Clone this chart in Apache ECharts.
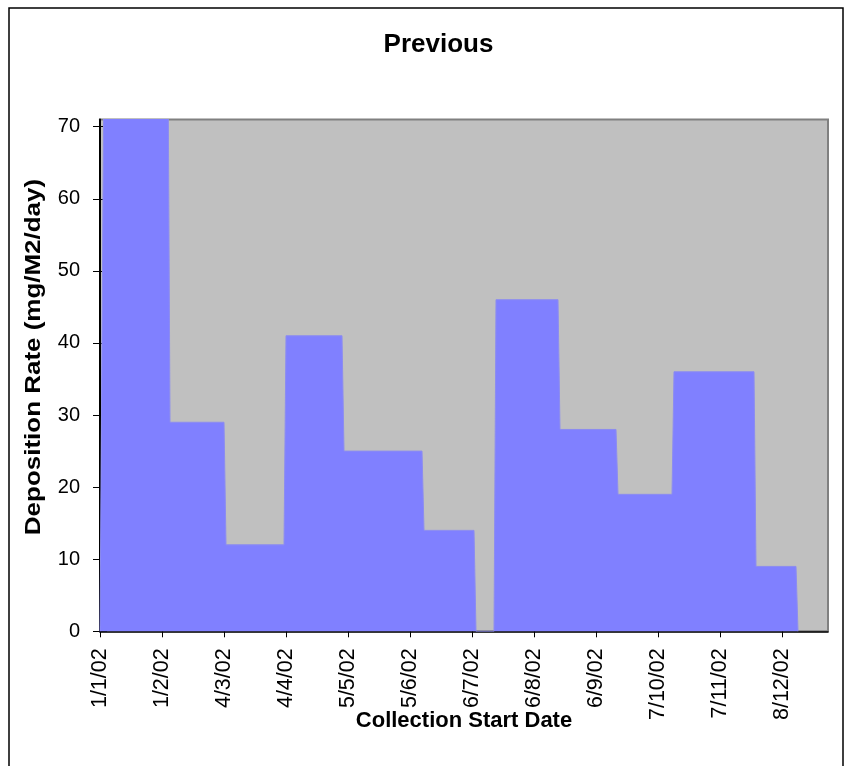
<!DOCTYPE html>
<html>
<head>
<meta charset="utf-8">
<script src="https://cdn.jsdelivr.net/npm/echarts@6/dist/echarts.min.js"></script>
<style>
html,body{margin:0;padding:0;background:#fff;}
#chart{width:852px;height:766px;}
</style>
</head>
<body>
<div id="chart"></div>
<script>
// Day offsets from 1 Jan 2002 of each vertex of the stepped area
var periodDays = [0, 2, 34, 35, 62, 63, 92, 93, 121, 122, 161, 162, 187, 188, 197, 198, 229, 230, 258, 259, 286, 287, 327, 328, 348, 349];
// Deposition rate (mg/M2/day) at each vertex
var rates = [0, 80, 80, 29, 29, 12, 12, 41, 41, 25, 25, 14, 14, 0, 0, 46, 46, 28, 28, 19, 19, 36, 36, 9, 9, 0];
// X tick positions (days from 1 Jan 2002) and their labels
var xTickDays = [0, 31, 62, 93, 124, 155, 186, 217, 248, 279, 310, 341];
var xTickLabels = ['1/1/02', '1/2/02', '4/3/02', '4/4/02', '5/5/02', '5/6/02', '6/7/02', '6/8/02', '6/9/02', '7/10/02', '7/11/02', '8/12/02'];
var yTicks = [0, 10, 20, 30, 40, 50, 60, 70];

var seriesData = periodDays.map(function (d, i) { return [d, rates[i]]; });
var FONT = "'Liberation Sans', Arial, sans-serif";

var chart = echarts.init(document.getElementById('chart'), null, {renderer: 'canvas'});

function xAxisBase(inside, main) {
  return {
    type: 'value', min: 0, max: 364, position: 'bottom',
    axisLine: {show: main, onZero: false, lineStyle: {color: '#000', width: 1.5}},
    axisTick: {show: true, inside: inside, length: 6, customValues: xTickDays, lineStyle: {color: '#000', width: 1}},
    axisLabel: {
      show: main, customValues: xTickDays, rotate: 90, margin: 17,
      fontFamily: FONT, fontSize: 21.5, color: '#000',
      formatter: function (v) { var k = xTickDays.indexOf(v); return k >= 0 ? xTickLabels[k] : ''; }
    },
    splitLine: {show: false}
  };
}
function yAxisBase(inside, main) {
  return {
    type: 'value', min: 0, max: 71, position: 'left',
    axisLine: {show: main, onZero: false, lineStyle: {color: '#000', width: 2}},
    axisTick: {show: true, inside: inside, length: 7, customValues: yTicks, lineStyle: {color: '#000', width: 1}},
    axisLabel: {show: main, customValues: yTicks, margin: 20, fontFamily: FONT, fontSize: 20, color: '#000'},
    splitLine: {show: false}
  };
}

chart.setOption({
  animation: false,
  backgroundColor: '#fff',
  grid: {
    left: 100, right: 24, top: 119.5, bottom: 134.7,
    show: true, backgroundColor: '#C0C0C0', borderColor: '#808080', borderWidth: 2
  },
  xAxis: [xAxisBase(false, true), xAxisBase(true, false)],
  yAxis: [yAxisBase(false, true), yAxisBase(true, false)],
  series: [{
    type: 'line', xAxisIndex: 0, yAxisIndex: 0,
    data: seriesData, showSymbol: false, clip: true,
    lineStyle: {color: '#8C8CF0', width: 1},
    areaStyle: {color: '#8080FF', opacity: 1},
    z: 1
  }],
  graphic: [
    {type: 'rect', shape: {x: 9, y: 8, width: 834, height: 800}, style: {fill: null, stroke: '#000', lineWidth: 1.5}, silent: true, z: -10},
    {type: 'text', x: 438.5, y: 45,
     style: {text: 'Previous', fontFamily: FONT, fontSize: 26, fontWeight: 'bold', fill: '#000', align: 'center', verticalAlign: 'middle'}},
    {type: 'text', x: 34, y: 357, rotation: Math.PI / 2, scaleX: 1.18,
     style: {text: 'Deposition Rate (mg/M2/day)', fontFamily: FONT, fontSize: 22, fontWeight: 'bold', fill: '#000', align: 'center', verticalAlign: 'middle'}},
    {type: 'text', x: 464, y: 721,
     style: {text: 'Collection Start Date', fontFamily: FONT, fontSize: 22, fontWeight: 'bold', fill: '#000', align: 'center', verticalAlign: 'middle'}}
  ]
});
</script>
</body>
</html>
